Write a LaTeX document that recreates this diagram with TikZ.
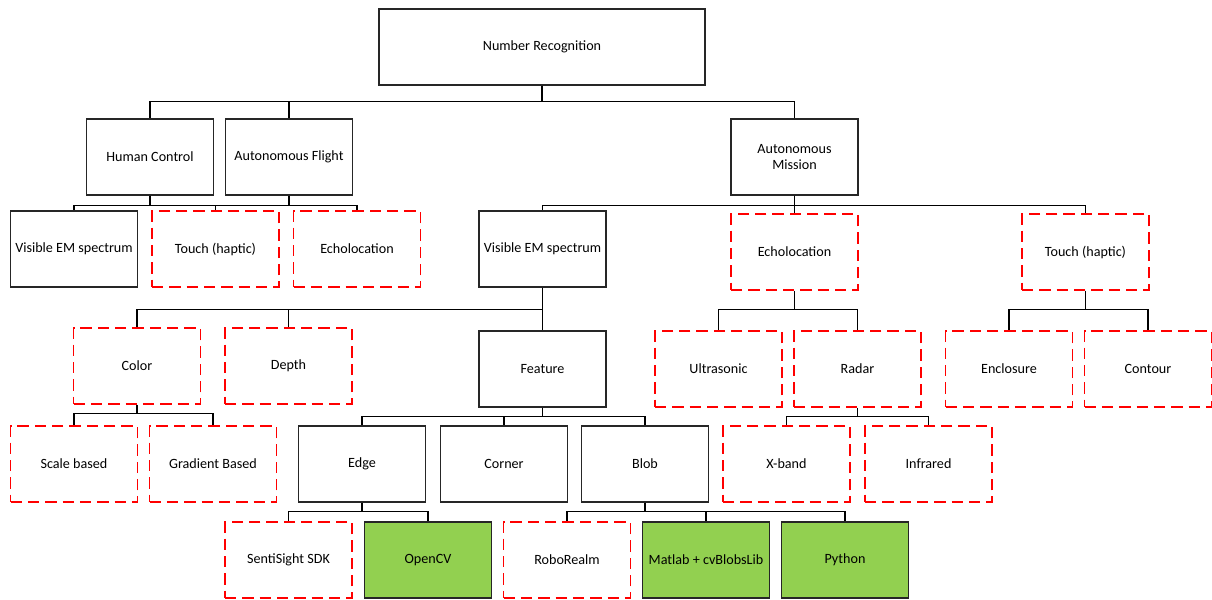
\documentclass[tikz,border=0pt]{standalone}
\usepackage{fontspec}
\setmainfont{Carlito}
\definecolor{boxgreen}{RGB}{146,208,80}

\begin{document}
\begin{tikzpicture}[x=0.75pt,y=-0.75pt,
  box/.style={draw=black!85,line width=0.8pt,minimum width=95.25pt,minimum height=57pt,
    align=center,inner sep=1pt,font=\fontsize{10.6}{12.5}\selectfont},
  option/.style={box,draw=red,line width=1.3pt,dash pattern=on 8.5pt off 4.5pt},
  chosen/.style={box,fill=boxgreen},
  link/.style={draw=black,line width=0.8pt}]
\useasboundingbox (0,0) rectangle (1212,599);

% top
\node[box,minimum width=244.5pt] (root) at (542,47) {Number Recognition};
\node[box] (human) at (150,157) {Human Control};
\node[box] (flight) at (289,157) {Autonomous Flight};
\node[box] (mission) at (794.5,157) {Autonomous\\Mission};

% sensing
\node[box] (visL) at (74,249) {Visible EM spectrum};
\node[option] (touchL) at (215.5,249) {Touch (haptic)};
\node[option] (echoL) at (357,249) {Echolocation};
\node[box] (visM) at (542.5,249) {Visible EM spectrum};
\node[option] (echoM) at (794.5,252) {Echolocation};
\node[option] (touchR) at (1085.5,252) {Touch (haptic)};

% methods
\node[option] (color) at (137,366) {Color};
\node[option] (depth) at (288.5,366) {Depth};
\node[box] (feature) at (542.5,369) {Feature};
\node[option] (ultra) at (718.5,369) {Ultrasonic};
\node[option] (radar) at (857.5,369) {Radar};
\node[option] (enclosure) at (1009,369) {Enclosure};
\node[option] (contour) at (1148,369) {Contour};

\node[option] (scale) at (74,464) {Scale based};
\node[option] (gradient) at (213,464) {Gradient Based};
\node[box] (edge) at (362,464) {Edge};
\node[box] (corner) at (504,464) {Corner};
\node[box] (blob) at (645,464) {Blob};
\node[option] (xband) at (786.5,464) {X-band};
\node[option] (infrared) at (928.5,464) {Infrared};

% tools
\node[option] (senti) at (288.5,560) {SentiSight SDK};
\node[chosen] (opencv) at (428,560) {OpenCV};
\node[option] (robo) at (567,560) {RoboRealm};
\node[chosen] (matlab) at (706,560) {Matlab + cvBlobsLib};
\node[chosen] (python) at (845,560) {Python};

% tree lines
\foreach \child in {human,flight,mission}
  \draw[link] (root.south) -- ++(0,16) -| (\child.north);
\foreach \child in {visL,touchL,echoL}
  \draw[link] (human.south) -- ++(0,10) -| (\child.north);
\draw[link] (flight.south) -- ++(0,10);
\foreach \child in {visM,echoM,touchR}
  \draw[link] (mission.south) -- ++(0,10) -| (\child.north);
\foreach \child in {color,depth,feature}
  \draw[link] (visM.south) -- ++(0,22) -| (\child.north);
\foreach \child in {ultra,radar}
  \draw[link] (echoM.south) -- ++(0,19) -| (\child.north);
\foreach \child in {enclosure,contour}
  \draw[link] (touchR.south) -- ++(0,19) -| (\child.north);
\foreach \child in {scale,gradient}
  \draw[link] (color.south) -- ++(0,9) -| (\child.north);
\foreach \child in {edge,corner,blob}
  \draw[link] (feature.south) -- ++(0,9) -| (\child.north);
\foreach \child in {xband,infrared}
  \draw[link] (radar.south) -- ++(0,9) -| (\child.north);
\foreach \child in {senti,opencv}
  \draw[link] (edge.south) -- ++(0,9) -| (\child.north);
\foreach \child in {robo,matlab,python}
  \draw[link] (blob.south) -- ++(0,9) -| (\child.north);
\end{tikzpicture}
\end{document}
